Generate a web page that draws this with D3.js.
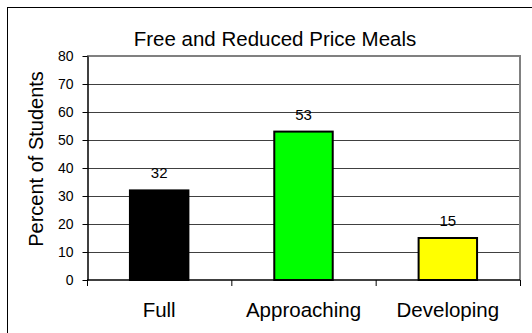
<!DOCTYPE html>
<html><head><meta charset="utf-8">
<script src="https://cdn.jsdelivr.net/npm/d3@7"></script>
<style>
html,body{margin:0;padding:0;background:#fff;}
svg{display:block;}
text{font-family:"Liberation Sans",Arial,sans-serif;fill:#000;}
</style></head>
<body>
<svg id="chart" width="532" height="333"></svg>
<script>
const categories = ["Full", "Approaching", "Developing"];
const values = [32, 53, 15];
const barColors = ["#000000", "#00ff00", "#ffff00"];
const yTicks = [0, 10, 20, 30, 40, 50, 60, 70, 80];
const titleText = "Free and Reduced Price Meals";
const yTitle = "Percent of Students";

const svg = d3.select("#chart");
const W = 532, H = 333;
const plot = {left: 87, right: 520, top: 56, bottom: 280};

// outer chart border
svg.append("rect").attr("x", 7.5).attr("y", 7.5).attr("width", 540).attr("height", 340)
  .attr("fill", "#fff").attr("stroke", "#000").attr("stroke-width", 1);

const x = d3.scaleBand().domain(categories).range([plot.left, plot.right])
  .paddingInner(0.595).paddingOuter(0.2975);
const xCat = d3.scaleBand().domain(categories).range([plot.left, plot.right]).padding(0);
const y = d3.scaleLinear().domain([0, 80]).range([plot.bottom, plot.top]);

// gridlines
svg.append("g").selectAll("line").data(yTicks.filter(t => t > 0 && t < 80)).join("line")
  .attr("x1", plot.left).attr("x2", plot.right)
  .attr("y1", d => Math.round(y(d)) + 0.5).attr("y2", d => Math.round(y(d)) + 0.5)
  .attr("stroke", "#404040").attr("stroke-width", 1);

// plot border (top & right gray)
svg.append("path")
  .attr("d", `M${plot.left},${y(80)}H${plot.right}V${plot.bottom}`)
  .attr("fill", "none").attr("stroke", "#808080").attr("stroke-width", 2);

// bars
svg.append("g").selectAll("rect").data(values).join("rect")
  .attr("x", (d, i) => x(categories[i]))
  .attr("width", x.bandwidth())
  .attr("y", d => y(d))
  .attr("height", d => y(0) - y(d))
  .attr("fill", (d, i) => barColors[i])
  .attr("stroke", "#000").attr("stroke-width", 2);

// value labels
svg.append("g").selectAll("text").data(values).join("text")
  .attr("x", (d, i) => x(categories[i]) + x.bandwidth() / 2)
  .attr("y", d => y(d) - 12)
  .attr("text-anchor", "middle")
  .style("font-size", "15px")
  .text(d => d);

// y axis
const yAxis = d3.axisLeft(y).tickValues(yTicks).tickSize(5).tickPadding(9).tickSizeOuter(0);
const gy = svg.append("g").attr("transform", `translate(${plot.left + 0.5},0)`).call(yAxis);
gy.select(".domain").attr("stroke", "#000").attr("stroke-width", 1.5);
gy.selectAll(".tick line").attr("stroke", "#000");
gy.selectAll(".tick text").style("font-size", "14px").style("font-family", '"Liberation Sans",Arial,sans-serif').attr("fill", "#000");

// x axis
svg.append("line").attr("x1", plot.left).attr("x2", plot.right)
  .attr("y1", y(0)).attr("y2", y(0)).attr("stroke", "#000").attr("stroke-width", 1.5);
const boundaries = categories.map(c => xCat(c)).concat([plot.right]);
svg.append("g").selectAll("line").data(boundaries).join("line")
  .attr("x1", d => d + 0.5).attr("x2", d => d + 0.5)
  .attr("y1", y(0)).attr("y2", y(0) + 6)
  .attr("stroke", "#000").attr("stroke-width", 1);
svg.append("g").selectAll("text").data(categories).join("text")
  .attr("x", d => xCat(d) + xCat.bandwidth() / 2)
  .attr("y", 317)
  .attr("text-anchor", "middle")
  .style("font-size", "20.5px")
  .text(d => d);

// title
svg.append("text").attr("x", 275).attr("y", 45.5).attr("text-anchor", "middle")
  .style("font-size", "20.5px").text(titleText);

// y title
svg.append("text").attr("transform", "translate(43,159) rotate(-90)")
  .attr("text-anchor", "middle").style("font-size", "20px").text(yTitle);
</script>
</body></html>
